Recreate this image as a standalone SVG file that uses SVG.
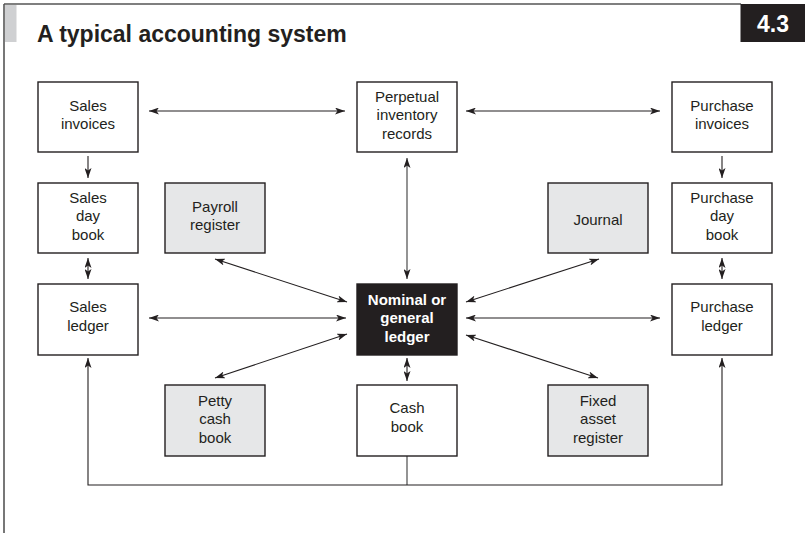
<svg xmlns="http://www.w3.org/2000/svg" width="805" height="533" viewBox="0 0 805 533">
<style>
.box{fill:#ffffff;stroke:#231f20;stroke-width:1.4}
.grey{fill:#e6e7e8;stroke:#231f20;stroke-width:1.4}
.dark{fill:#231f20;stroke:#231f20;stroke-width:1.4}
.t{font-family:"Liberation Sans",Arial,sans-serif;font-size:15px;fill:#231f20;text-anchor:middle}
.tw{font-family:"Liberation Sans",Arial,sans-serif;font-size:15px;font-weight:bold;fill:#ffffff;text-anchor:middle}
.c{fill:none;stroke:#231f20;stroke-width:1.1}
.cg{fill:none;stroke:#5a5a5a;stroke-width:1.3}
</style>
<defs>
<marker id="ah" viewBox="0 0 10 7" refX="10" refY="3.5" markerWidth="10" markerHeight="7" markerUnits="userSpaceOnUse" orient="auto-start-reverse">
<path d="M0,0 L10,3.5 L0,7 L2.5,3.5 Z" fill="#231f20"/>
</marker>
</defs>
<rect width="805" height="533" fill="#ffffff"/>
<g id="frame">
<line x1="4" y1="4" x2="741" y2="4" stroke="#555555" stroke-width="1.6"/>
<line x1="4" y1="4" x2="4" y2="533" stroke="#555555" stroke-width="1.6"/>
<rect x="5" y="5" width="11.5" height="37" fill="#cfd0d2"/>
<text x="37" y="42" font-family="Liberation Sans,Arial,sans-serif" font-size="23" font-weight="bold" fill="#231f20">A typical accounting system</text>
<rect x="740.5" y="4" width="64.5" height="38" fill="#231f20"/>
<text x="773" y="31.5" font-family="Liberation Sans,Arial,sans-serif" font-size="23" font-weight="bold" fill="#ffffff" text-anchor="middle">4.3</text>
</g>
<g id="connectors">
<line class="c" x1="149" y1="111" x2="345" y2="111" marker-start="url(#ah)" marker-end="url(#ah)"/>
<line class="c" x1="466" y1="111" x2="660" y2="111" marker-start="url(#ah)" marker-end="url(#ah)"/>
<line class="c" x1="88" y1="156" x2="88" y2="178" marker-end="url(#ah)"/>
<line class="c" x1="88" y1="258" x2="88" y2="279" marker-start="url(#ah)" marker-end="url(#ah)"/>
<line class="c" x1="722" y1="156" x2="722" y2="178" marker-end="url(#ah)"/>
<line class="c" x1="722" y1="258" x2="722" y2="279" marker-start="url(#ah)" marker-end="url(#ah)"/>
<line class="cg" x1="407" y1="158" x2="407" y2="279" marker-start="url(#ah)" marker-end="url(#ah)"/>
<line class="c" x1="407" y1="358" x2="407" y2="381" marker-start="url(#ah)" marker-end="url(#ah)"/>
<line class="c" x1="149" y1="318" x2="346" y2="318" marker-start="url(#ah)" marker-end="url(#ah)"/>
<line class="c" x1="466" y1="318" x2="660" y2="318" marker-start="url(#ah)" marker-end="url(#ah)"/>
<line class="c" x1="215" y1="259" x2="347" y2="302" marker-start="url(#ah)" marker-end="url(#ah)"/>
<line class="c" x1="215" y1="378" x2="347" y2="334" marker-start="url(#ah)" marker-end="url(#ah)"/>
<line class="c" x1="599" y1="259" x2="466" y2="302" marker-start="url(#ah)" marker-end="url(#ah)"/>
<line class="c" x1="598" y1="378" x2="466" y2="335" marker-start="url(#ah)" marker-end="url(#ah)"/>
<line class="cg" x1="407" y1="456" x2="407" y2="485"/>
<path class="c" d="M88,358 L88,485 L722,485 L722,358" marker-start="url(#ah)" marker-end="url(#ah)"/>
</g>
<g id="sales-invoices">
<rect class="box" x="38" y="82" width="100" height="70"/>
<text class="t" x="88" y="110.5">Sales<tspan x="88" dy="18.5">invoices</tspan></text>
</g>
<g id="perpetual-inventory">
<rect class="box" x="357" y="82" width="100" height="70"/>
<text class="t" x="407" y="101.5">Perpetual<tspan x="407" dy="18.5">inventory</tspan><tspan x="407" dy="18.5">records</tspan></text>
</g>
<g id="purchase-invoices">
<rect class="box" x="672" y="82" width="100" height="70"/>
<text class="t" x="722" y="110.5">Purchase<tspan x="722" dy="18.5">invoices</tspan></text>
</g>
<g id="sales-day-book">
<rect class="box" x="38" y="183" width="100" height="70"/>
<text class="t" x="88" y="202.5">Sales<tspan x="88" dy="18.5">day</tspan><tspan x="88" dy="18.5">book</tspan></text>
</g>
<g id="payroll-register">
<rect class="grey" x="165" y="183" width="100" height="70"/>
<text class="t" x="215" y="211.5">Payroll<tspan x="215" dy="18.5">register</tspan></text>
</g>
<g id="journal">
<rect class="grey" x="548" y="183" width="100" height="70"/>
<text class="t" x="598" y="225">Journal</text>
</g>
<g id="purchase-day-book">
<rect class="box" x="672" y="183" width="100" height="70"/>
<text class="t" x="722" y="202.5">Purchase<tspan x="722" dy="18.5">day</tspan><tspan x="722" dy="18.5">book</tspan></text>
</g>
<g id="sales-ledger">
<rect class="box" x="38" y="284" width="100" height="71"/>
<text class="t" x="88" y="312">Sales<tspan x="88" dy="18.5">ledger</tspan></text>
</g>
<g id="nominal-ledger">
<rect class="dark" x="357" y="284" width="100" height="71"/>
<text class="tw" x="407" y="304.5">Nominal or<tspan x="407" dy="18.5">general</tspan><tspan x="407" dy="18.5">ledger</tspan></text>
</g>
<g id="purchase-ledger">
<rect class="box" x="672" y="284" width="100" height="71"/>
<text class="t" x="722" y="312">Purchase<tspan x="722" dy="18.5">ledger</tspan></text>
</g>
<g id="petty-cash-book">
<rect class="grey" x="165" y="385" width="100" height="71"/>
<text class="t" x="215" y="405.5">Petty<tspan x="215" dy="18.5">cash</tspan><tspan x="215" dy="18.5">book</tspan></text>
</g>
<g id="cash-book">
<rect class="box" x="357" y="385" width="100" height="71"/>
<text class="t" x="407" y="413">Cash<tspan x="407" dy="18.5">book</tspan></text>
</g>
<g id="fixed-asset-register">
<rect class="grey" x="548" y="385" width="100" height="71"/>
<text class="t" x="598" y="405.5">Fixed<tspan x="598" dy="18.5">asset</tspan><tspan x="598" dy="18.5">register</tspan></text>
</g>
</svg>
